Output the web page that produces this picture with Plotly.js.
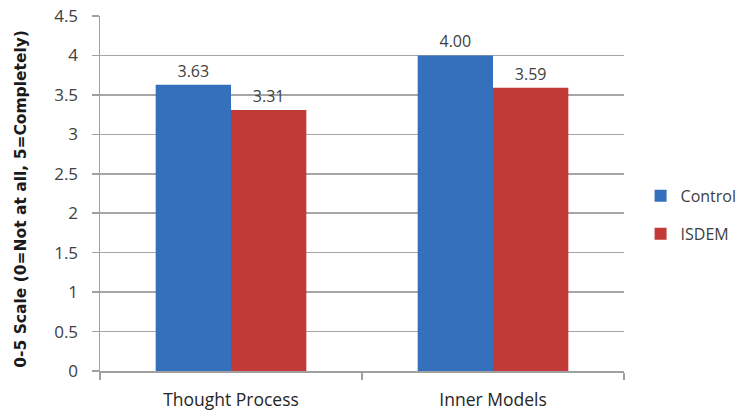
<!DOCTYPE html>
<html><head><meta charset="utf-8">
<script src="https://cdn.plot.ly/plotly-3.0.1.min.js"></script>
<style>body{margin:0;background:#fff}#c{width:744px;height:415px}</style>
</head><body><div id="c"></div>
<script>
const categories = ["Thought Process", "Inner Models"];
const controlValues = [3.63, 4.00];
const isdemValues = [3.31, 3.59];
const seriesNames = ["Control", "ISDEM"];
const yTicks = [0, 0.5, 1, 1.5, 2, 2.5, 3, 3.5, 4, 4.5];
const yTitle = "0-5 Scale (0=Not at all, 5=Completely)";

const fnt = "'Open Sans', sans-serif";
const traces = [
  {type:"bar", name:seriesNames[0], x:categories, y:controlValues, legendgroup:"a",
   marker:{color:"#3570BC", line:{width:0}},
   text:controlValues.map(v=>v.toFixed(2)), textposition:"outside", cliponaxis:false,
   textfont:{family:fnt, size:16, color:"#404040"}},
  {type:"bar", name:seriesNames[1], x:categories, y:isdemValues, legendgroup:"b",
   marker:{color:"#C23A37", line:{width:0}},
   text:isdemValues.map(v=>v.toFixed(2)), textposition:"outside", cliponaxis:false,
   textfont:{family:fnt, size:16, color:"#404040"}}
];
const layout = {
  width:744, height:415,
  margin:{l:100, r:120, t:16, b:44, autoexpand:false},
  paper_bgcolor:"#fff", plot_bgcolor:"#fff",
  barmode:"group", bargap:0.425, bargroupgap:0,
  font:{family:fnt, size:16, color:"#404040"},
  showlegend:true,
  legend:{xref:"container", yref:"container", x:0.861, y:0.482, yanchor:"middle", xanchor:"left",
    tracegroupgap:14, font:{family:fnt, size:16, color:"#404040"}, itemwidth:30},
  xaxis:{type:"category", showgrid:false, showline:true, linecolor:"#a0a0a0", linewidth:1.5,
    ticks:"outside", tickson:"boundaries", ticklen:7, tickcolor:"#a0a0a0", tickwidth:1.5,
    ticklabelstandoff:12, tickfont:{family:fnt, size:17.5, color:"#262626"}},
  yaxis:{range:[0,4.5], tickvals:yTicks, ticktext:yTicks.map(String),
    showgrid:true, gridcolor:"#a6a6a6", gridwidth:1.5,
    showline:true, linecolor:"#a0a0a0", linewidth:1.5,
    ticks:"outside", ticklen:7, tickcolor:"#a0a0a0", tickwidth:1.5, ticklabelstandoff:10,
    zeroline:false,
    tickfont:{family:fnt, size:17, color:"#404040"}},
  annotations:[{text:"<b>"+yTitle+"</b>", textangle:-90, showarrow:false,
    xref:"paper", yref:"paper", x:-0.151, y:0.485, xanchor:"center", yanchor:"middle",
    font:{family:"'DejaVu Sans', sans-serif", size:15.5, color:"#1a1a1a"}}]
};
Plotly.newPlot("c", traces, layout, {displayModeBar:false, staticPlot:true});
</script></body></html>
